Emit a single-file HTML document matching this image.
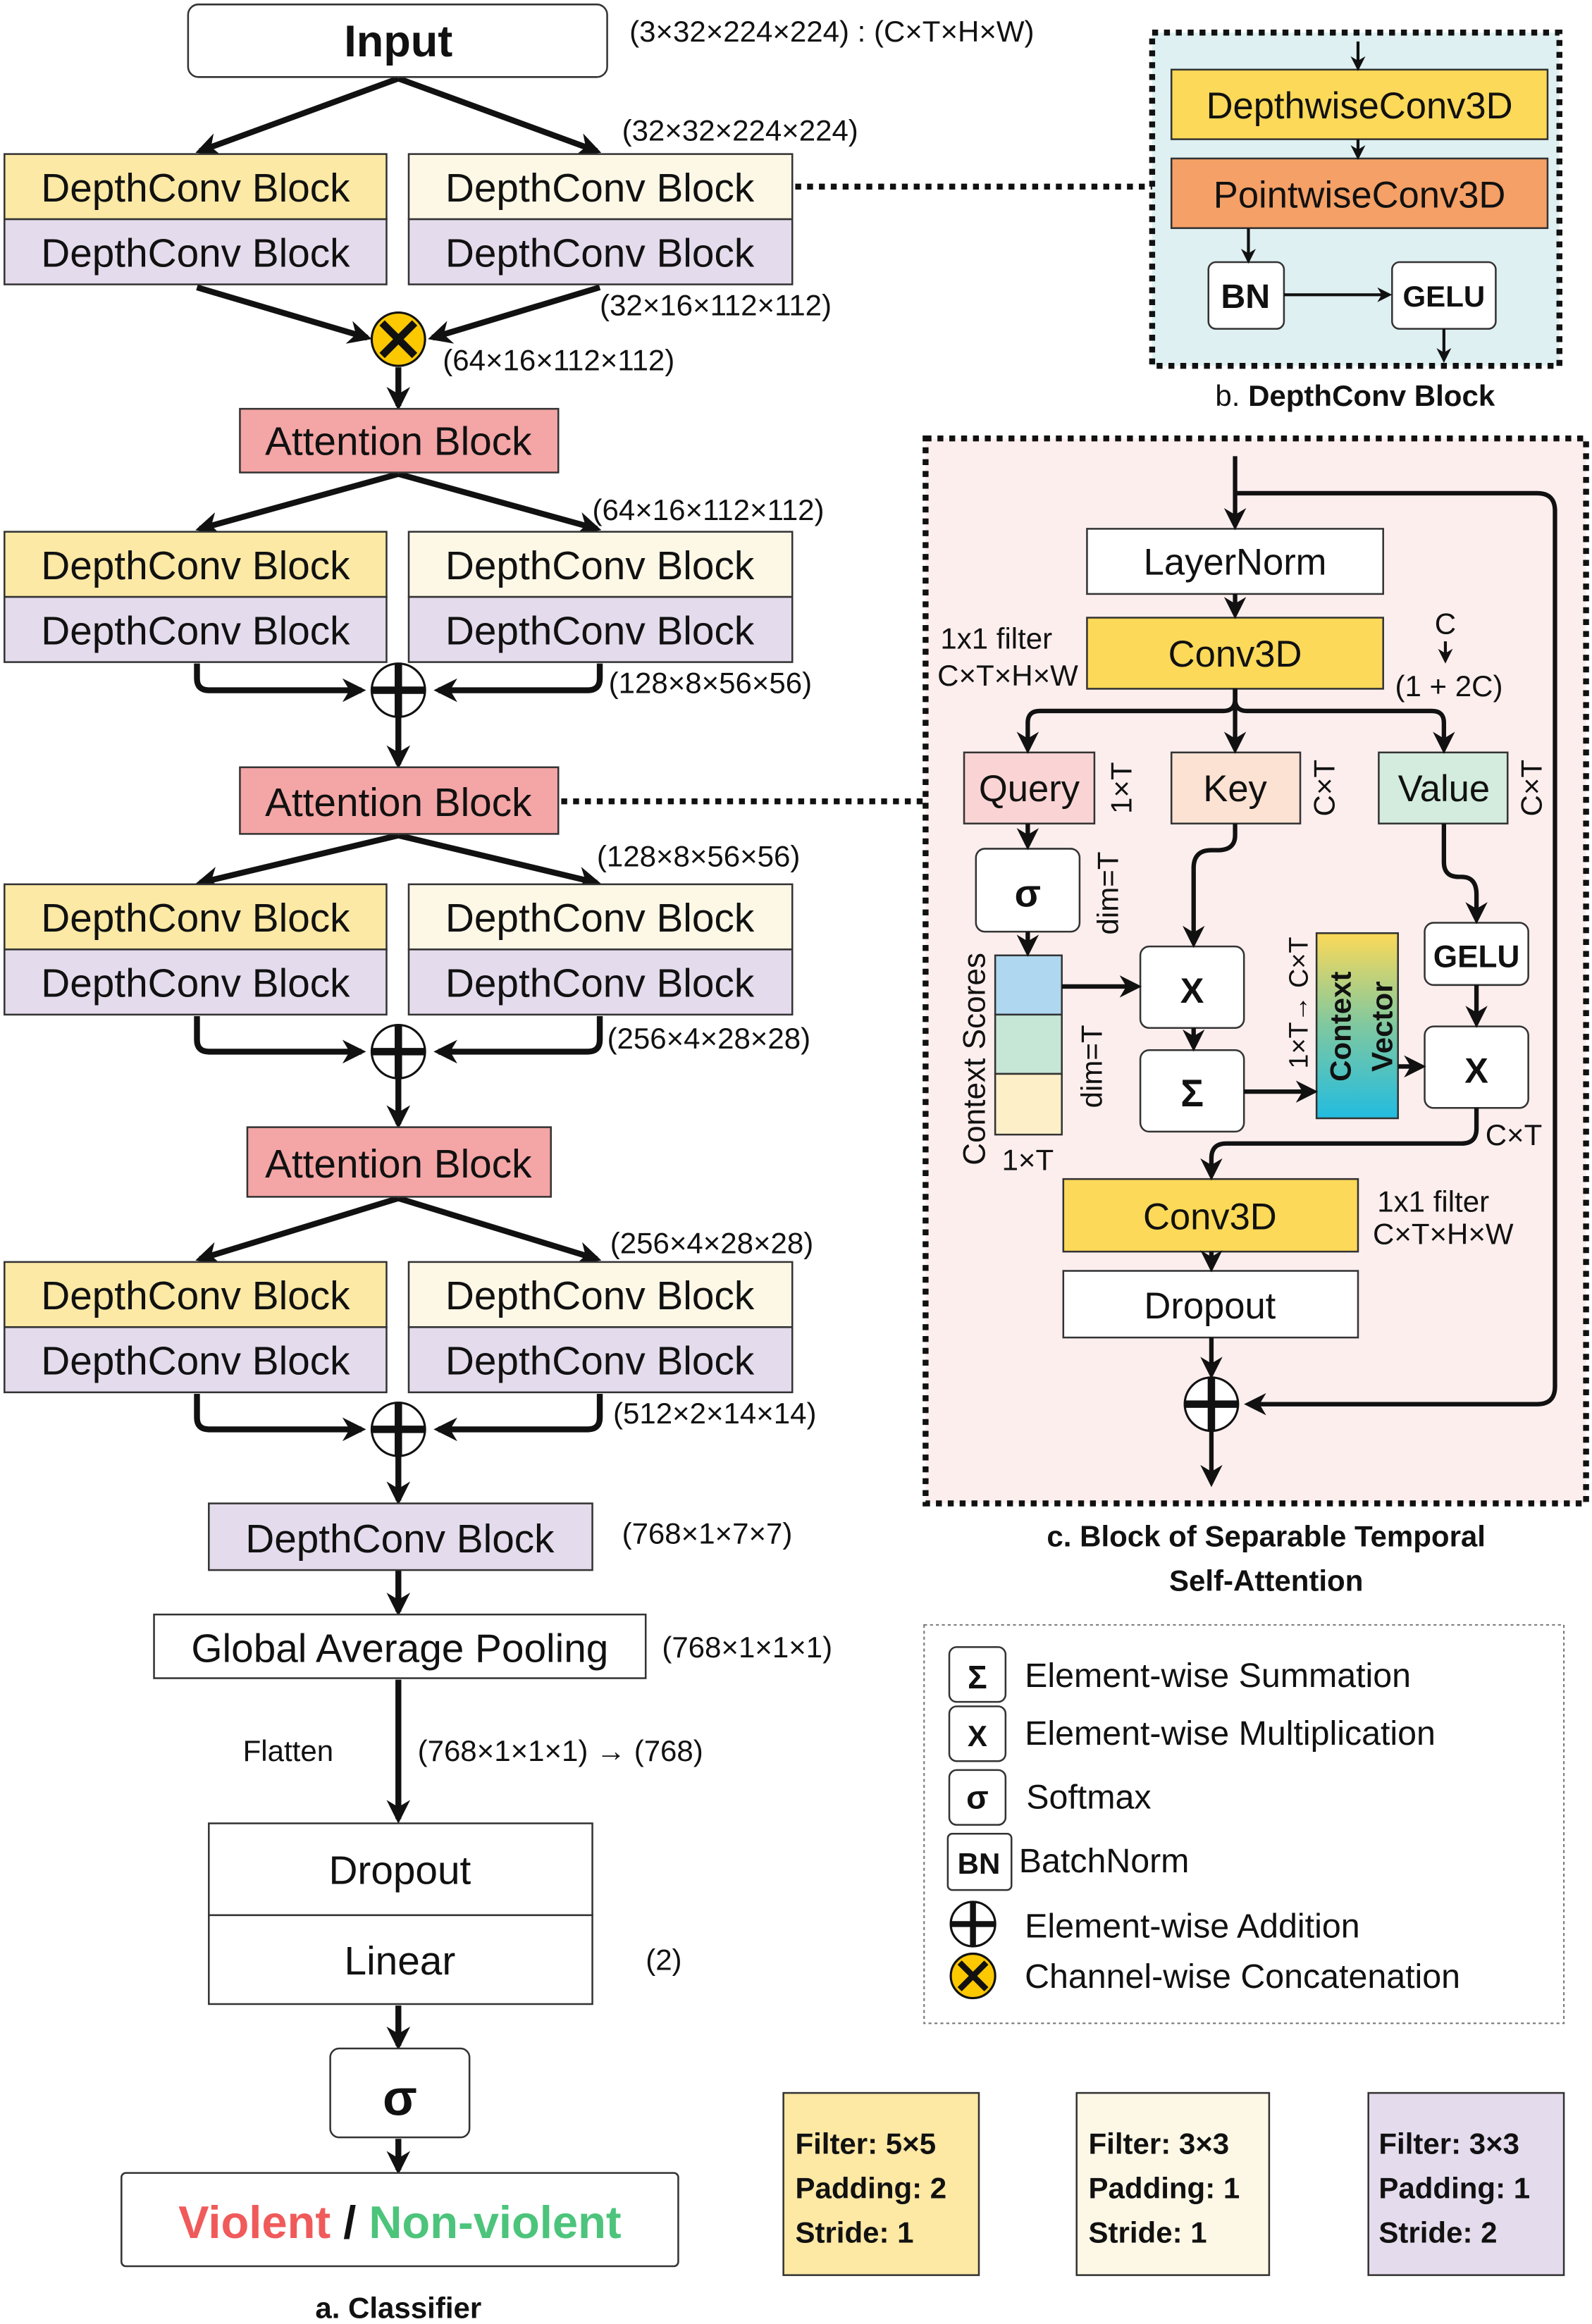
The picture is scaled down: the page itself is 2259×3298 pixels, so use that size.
<!DOCTYPE html>
<html><head><meta charset="utf-8"><style>
html,body{margin:0;padding:0;background:#fff;}
svg{display:block;}
text{font-family:"Liberation Sans",sans-serif;fill:#111;}
.b{font-weight:bold;}
</style></head><body>
<svg width="2259" height="3298" viewBox="0 0 1075 1569" preserveAspectRatio="none" xmlns="http://www.w3.org/2000/svg">
<defs>
<marker id="ah" viewBox="0 0 10 10" refX="8" refY="5" markerWidth="4" markerHeight="4" orient="auto-start-reverse"><path d="M0,0 L10,5 L0,10 L3,5 z" fill="#111"/></marker>
<marker id="as" viewBox="0 0 10 10" refX="8" refY="5" markerWidth="5" markerHeight="5" orient="auto-start-reverse"><path d="M0,0 L10,5 L0,10 L3,5 z" fill="#111"/></marker>
<linearGradient id="cv" x1="0" y1="0" x2="0" y2="1"><stop offset="0" stop-color="#fcd958"/><stop offset="0.5" stop-color="#7fc8a0"/><stop offset="1" stop-color="#22bce0"/></linearGradient>
</defs>
<g stroke="#111" stroke-width="4" fill="none" marker-end="url(#ah)">
<line x1="269" y1="53" x2="135" y2="102"/><line x1="269" y1="53" x2="403" y2="102"/>
<line x1="133" y1="194" x2="248" y2="228"/><line x1="405" y1="194" x2="292" y2="228"/>
<line x1="269" y1="248" x2="269" y2="274"/>
<line x1="269" y1="320" x2="135" y2="357"/><line x1="269" y1="320" x2="403" y2="357"/>
<path d="M133,448 V458 Q133,466 141,466 H244"/><path d="M405,448 V458 Q405,466 397,466 H296"/>
<line x1="269" y1="484" x2="269" y2="516"/>
<line x1="269" y1="564" x2="135" y2="596"/><line x1="269" y1="564" x2="403" y2="596"/>
<path d="M133,686 V702 Q133,710 141,710 H244"/><path d="M405,686 V702 Q405,710 397,710 H296"/>
<line x1="269" y1="728" x2="269" y2="759"/>
<line x1="269" y1="809" x2="135" y2="850"/><line x1="269" y1="809" x2="403" y2="850"/>
<path d="M133,941 V957 Q133,965 141,965 H244"/><path d="M405,941 V957 Q405,965 397,965 H296"/>
<line x1="269" y1="983" x2="269" y2="1013"/>
<line x1="269" y1="1060" x2="269" y2="1088"/>
<line x1="269" y1="1134" x2="269" y2="1228"/>
<line x1="269" y1="1354" x2="269" y2="1381"/>
<line x1="269" y1="1444" x2="269" y2="1465"/>
</g>
<rect x="127" y="3" width="283" height="49" rx="7" fill="#fff" stroke="#333" stroke-width="1.2"/>
<text x="269" y="38" font-size="30" class="b" text-anchor="middle">Input</text>
<g font-size="20"><text x="425" y="28">(3×32×224×224) : (C×T×H×W)</text>
<text x="420" y="95">(32×32×224×224)</text><text x="405" y="213">(32×16×112×112)</text><text x="299" y="250">(64×16×112×112)</text>
<text x="400" y="351">(64×16×112×112)</text><text x="411" y="468">(128×8×56×56)</text><text x="403" y="585">(128×8×56×56)</text>
<text x="410" y="708">(256×4×28×28)</text><text x="412" y="846">(256×4×28×28)</text><text x="414" y="961">(512×2×14×14)</text>
<text x="420" y="1042">(768×1×7×7)</text><text x="447" y="1119">(768×1×1×1)</text>
<text x="164" y="1189">Flatten</text><text x="282" y="1189">(768×1×1×1) → (768)</text><text x="436" y="1330">(2)</text></g>
<g stroke="#333" stroke-width="1.2">
<rect x="3" y="104" width="258" height="44" fill="#fbe9a5"/><rect x="3" y="148" width="258" height="44" fill="#e4dbec"/>
<rect x="276" y="104" width="259" height="44" fill="#fdf8e6"/><rect x="276" y="148" width="259" height="44" fill="#e4dbec"/>
<rect x="3" y="359" width="258" height="44" fill="#fbe9a5"/><rect x="3" y="403" width="258" height="44" fill="#e4dbec"/>
<rect x="276" y="359" width="259" height="44" fill="#fdf8e6"/><rect x="276" y="403" width="259" height="44" fill="#e4dbec"/>
<rect x="3" y="597" width="258" height="44" fill="#fbe9a5"/><rect x="3" y="641" width="258" height="44" fill="#e4dbec"/>
<rect x="276" y="597" width="259" height="44" fill="#fdf8e6"/><rect x="276" y="641" width="259" height="44" fill="#e4dbec"/>
<rect x="3" y="852" width="258" height="44" fill="#fbe9a5"/><rect x="3" y="896" width="258" height="44" fill="#e4dbec"/>
<rect x="276" y="852" width="259" height="44" fill="#fdf8e6"/><rect x="276" y="896" width="259" height="44" fill="#e4dbec"/>
<rect x="162" y="276" width="215" height="43" fill="#f4a5a5"/>
<rect x="162" y="518" width="215" height="45" fill="#f4a5a5"/>
<rect x="167" y="761" width="205" height="47" fill="#f4a5a5"/>
<rect x="141" y="1015" width="259" height="45" fill="#e4dbec"/>
<rect x="104" y="1090" width="332" height="43" fill="#fff"/>
<rect x="141" y="1231" width="259" height="62" fill="#fff"/><rect x="141" y="1293" width="259" height="60" fill="#fff"/>
<rect x="223" y="1383" width="94" height="60" rx="6" fill="#fff"/>
<rect x="82" y="1467" width="376" height="63" rx="3" fill="#fff"/>
</g>
<g font-size="27" text-anchor="middle">
<text x="132" y="136">DepthConv Block</text><text x="132" y="180">DepthConv Block</text><text x="405" y="136">DepthConv Block</text><text x="405" y="180">DepthConv Block</text>
<text x="132" y="391">DepthConv Block</text><text x="132" y="435">DepthConv Block</text><text x="405" y="391">DepthConv Block</text><text x="405" y="435">DepthConv Block</text>
<text x="132" y="629">DepthConv Block</text><text x="132" y="673">DepthConv Block</text><text x="405" y="629">DepthConv Block</text><text x="405" y="673">DepthConv Block</text>
<text x="132" y="884">DepthConv Block</text><text x="132" y="928">DepthConv Block</text><text x="405" y="884">DepthConv Block</text><text x="405" y="928">DepthConv Block</text>
<text x="269" y="307">Attention Block</text><text x="269" y="551">Attention Block</text><text x="269" y="795">Attention Block</text>
<text x="270" y="1048">DepthConv Block</text><text x="270" y="1122">Global Average Pooling</text>
<text x="270" y="1272">Dropout</text><text x="270" y="1333">Linear</text>
</g>
<text x="270" y="1428" font-size="34" class="b" text-anchor="middle">σ</text>
<text x="270" y="1511" font-size="31" class="b" text-anchor="middle"><tspan style="fill:#f05a5a">Violent</tspan> / <tspan style="fill:#4cc47b">Non-violent</tspan></text>
<text x="269" y="1565" font-size="20" class="b" text-anchor="middle">a. Classifier</text>
<g stroke="#111">
<circle cx="269" cy="229" r="18" fill="#fcc800" stroke-width="1.5"/><path d="M258,218 L280,240 M280,218 L258,240" stroke-width="5"/>
<circle cx="269" cy="466" r="18" fill="#fff" stroke-width="1.5"/><path d="M251,466 H287 M269,448 V484" stroke-width="5"/>
<circle cx="269" cy="710" r="18" fill="#fff" stroke-width="1.5"/><path d="M251,710 H287 M269,692 V728" stroke-width="5"/>
<circle cx="269" cy="965" r="18" fill="#fff" stroke-width="1.5"/><path d="M251,965 H287 M269,947 V983" stroke-width="5"/>
</g>
<line x1="537" y1="126" x2="778" y2="126" stroke="#111" stroke-width="4" stroke-dasharray="4,4"/>
<line x1="379" y1="541" x2="625" y2="541" stroke="#111" stroke-width="4" stroke-dasharray="4,4"/>
<rect x="778" y="22" width="275" height="225" fill="#dff0f2" stroke="#111" stroke-width="4" stroke-dasharray="4,4"/>
<rect x="791" y="47" width="254" height="47" fill="#fcd958" stroke="#333" stroke-width="1.2"/>
<rect x="791" y="107" width="254" height="47" fill="#f5a066" stroke="#333" stroke-width="1.2"/>
<rect x="816" y="177" width="51" height="45" rx="5" fill="#fff" stroke="#333" stroke-width="1.2"/>
<rect x="940" y="177" width="70" height="45" rx="5" fill="#fff" stroke="#333" stroke-width="1.2"/>
<g stroke="#111" stroke-width="2" marker-end="url(#as)" fill="none">
<line x1="917" y1="28" x2="917" y2="46"/><line x1="917" y1="94" x2="917" y2="106"/><line x1="843" y1="154" x2="843" y2="176"/><line x1="867" y1="199" x2="938" y2="199"/><line x1="975" y1="222" x2="975" y2="243"/></g>
<text x="918" y="80" font-size="25" text-anchor="middle">DepthwiseConv3D</text>
<text x="918" y="140" font-size="25" text-anchor="middle">PointwiseConv3D</text>
<text x="841" y="208" font-size="23" class="b" text-anchor="middle">BN</text>
<text x="975" y="207" font-size="20" class="b" text-anchor="middle">GELU</text>
<text x="915" y="274" font-size="20" text-anchor="middle"><tspan>b. </tspan><tspan class="b">DepthConv Block</tspan></text>
<rect x="625" y="296" width="446" height="719" fill="#fdeeee" stroke="#111" stroke-width="4" stroke-dasharray="4,4"/>
<g stroke="#333" stroke-width="1.2">
<rect x="734" y="357" width="200" height="44" fill="#fff"/>
<rect x="734" y="417" width="200" height="48" fill="#fcd958"/>
<rect x="651" y="508" width="88" height="48" fill="#fad4d4"/>
<rect x="791" y="508" width="87" height="48" fill="#fce2d2"/>
<rect x="931" y="508" width="87" height="48" fill="#d3ecdd"/>
<rect x="659" y="573" width="70" height="56" rx="6" fill="#fff"/>
<rect x="672" y="645" width="45" height="40" fill="#afd8f0"/><rect x="672" y="685" width="45" height="40" fill="#c6e6d6"/><rect x="672" y="725" width="45" height="41" fill="#fdf0c8"/>
<rect x="770" y="639" width="70" height="55" rx="6" fill="#fff"/>
<rect x="770" y="709" width="70" height="55" rx="6" fill="#fff"/>
<rect x="889" y="630" width="55" height="125" fill="url(#cv)"/>
<rect x="962" y="623" width="70" height="42" rx="6" fill="#fff"/>
<rect x="962" y="693" width="70" height="55" rx="6" fill="#fff"/>
<rect x="718" y="796" width="199" height="49" fill="#fcd958"/>
<rect x="718" y="858" width="199" height="45" fill="#fff"/>
</g>
<g stroke="#111" stroke-width="3" fill="none" marker-end="url(#as)">
<line x1="834" y1="308" x2="834" y2="355"/>
<path d="M834,333 H1038 Q1050,333 1050,345 V936 Q1050,948 1038,948 H843"/>
<line x1="834" y1="401" x2="834" y2="415"/>
<path d="M834,465 V472 Q834,480 826,480 H702 Q694,480 694,488 V506"/>
<path d="M834,465 V506"/>
<path d="M834,465 V472 Q834,480 842,480 H967 Q975,480 975,488 V506"/>
<line x1="694" y1="556" x2="694" y2="571"/>
<line x1="694" y1="629" x2="694" y2="643"/>
<path d="M717,666 H768"/>
<path d="M834,556 V564 Q834,574 822,574 H818 Q806,574 806,586 V637"/>
<line x1="806" y1="694" x2="806" y2="707"/>
<line x1="840" y1="737" x2="887" y2="737"/>
<line x1="944" y1="720" x2="960" y2="720"/>
<path d="M975,556 V582 Q975,592 985,592 H987 Q997,592 997,604 V621"/>
<line x1="997" y1="665" x2="997" y2="691"/>
<path d="M997,748 V762 Q997,772 987,772 H828 Q818,772 818,782 V794"/>
<line x1="818" y1="845" x2="818" y2="856"/>
<line x1="818" y1="903" x2="818" y2="928"/>
<line x1="818" y1="966" x2="818" y2="1001"/>
<line x1="976" y1="433" x2="976" y2="446" stroke-width="2"/>
</g>
<circle cx="818" cy="948" r="18" fill="#fff" stroke="#111" stroke-width="1.5"/><path d="M800,948 H836 M818,930 V966" stroke="#111" stroke-width="5"/>
<g font-size="25" text-anchor="middle">
<text x="834" y="388">LayerNorm</text><text x="834" y="450">Conv3D</text>
<text x="695" y="541">Query</text><text x="834" y="541">Key</text><text x="975" y="541">Value</text>
<text x="817" y="830">Conv3D</text><text x="817" y="890">Dropout</text>
</g>
<g font-size="20">
<text x="635" y="438">1x1 filter</text><text x="633" y="463">C×T×H×W</text>
<text x="976" y="428" text-anchor="middle">C</text><text x="942" y="470">(1 + 2C)</text>
<text x="694" y="790" text-anchor="middle">1×T</text><text x="1003" y="773">C×T</text>
<text x="930" y="818">1x1 filter</text><text x="927" y="840">C×T×H×W</text>
<text transform="translate(764,532) rotate(-90)" text-anchor="middle">1×T</text>
<text transform="translate(901,532) rotate(-90)" text-anchor="middle">C×T</text>
<text transform="translate(1041,532) rotate(-90)" text-anchor="middle">C×T</text>
<text transform="translate(755,603) rotate(-90)" text-anchor="middle">dim=T</text>
<text transform="translate(744,720) rotate(-90)" text-anchor="middle">dim=T</text>
<text transform="translate(665,715) rotate(-90)" text-anchor="middle" font-size="21">Context Scores</text>
<text transform="translate(883,677) rotate(-90)" text-anchor="middle" font-size="18">1×T→ C×T</text>
<text transform="translate(912,693) rotate(-90)" text-anchor="middle" font-size="20" class="b">Context</text>
<text transform="translate(940,693) rotate(-90)" text-anchor="middle" font-size="20" class="b">Vector</text>
</g>
<g class="b" text-anchor="middle">
<text x="694" y="612" font-size="26">σ</text><text x="805" y="677" font-size="24">X</text><text x="805" y="747" font-size="26">Σ</text>
<text x="997" y="653" font-size="21">GELU</text><text x="997" y="731" font-size="24">X</text>
</g>
<text x="855" y="1044" font-size="20" class="b" text-anchor="middle">c. Block of Separable Temporal</text>
<text x="855" y="1074" font-size="20" class="b" text-anchor="middle">Self-Attention</text>
<rect x="624" y="1097" width="432" height="269" fill="#fff" stroke="#777" stroke-width="1" stroke-dasharray="2,2"/>
<g stroke="#333" stroke-width="1.2" fill="#fff">
<rect x="641" y="1112" width="38" height="37" rx="5"/><rect x="641" y="1152" width="38" height="37" rx="5"/><rect x="641" y="1195" width="38" height="37" rx="5"/><rect x="640" y="1238" width="43" height="38" rx="3"/>
</g>
<g class="b" text-anchor="middle"><text x="660" y="1140" font-size="22">Σ</text><text x="660" y="1179" font-size="20">X</text><text x="660" y="1221" font-size="22">σ</text><text x="661" y="1265" font-size="20">BN</text></g>
<circle cx="657" cy="1299" r="15" fill="#fff" stroke="#111" stroke-width="1.5"/><path d="M642,1299 H672 M657,1284 V1314" stroke="#111" stroke-width="4"/>
<circle cx="657" cy="1334" r="15" fill="#fcc800" stroke="#111" stroke-width="1.5"/><path d="M648,1325 L666,1343 M666,1325 L648,1343" stroke="#111" stroke-width="4"/>
<g font-size="23"><text x="692" y="1139">Element-wise Summation</text><text x="692" y="1178">Element-wise Multiplication</text><text x="693" y="1221">Softmax</text><text x="688" y="1264">BatchNorm</text><text x="692" y="1308">Element-wise Addition</text><text x="692" y="1342">Channel-wise Concatenation</text></g>
<g stroke="#333" stroke-width="1.2"><rect x="529" y="1413" width="132" height="123" fill="#fde8a4"/><rect x="727" y="1413" width="130" height="123" fill="#fdf8e6"/><rect x="924" y="1413" width="132" height="123" fill="#e4dbec"/></g>
<g font-size="20" class="b">
<text x="537" y="1454">Filter: 5×5</text><text x="537" y="1484">Padding: 2</text><text x="537" y="1514">Stride: 1</text>
<text x="735" y="1454">Filter: 3×3</text><text x="735" y="1484">Padding: 1</text><text x="735" y="1514">Stride: 1</text>
<text x="931" y="1454">Filter: 3×3</text><text x="931" y="1484">Padding: 1</text><text x="931" y="1514">Stride: 2</text>
</g>
</svg>
</body></html>
